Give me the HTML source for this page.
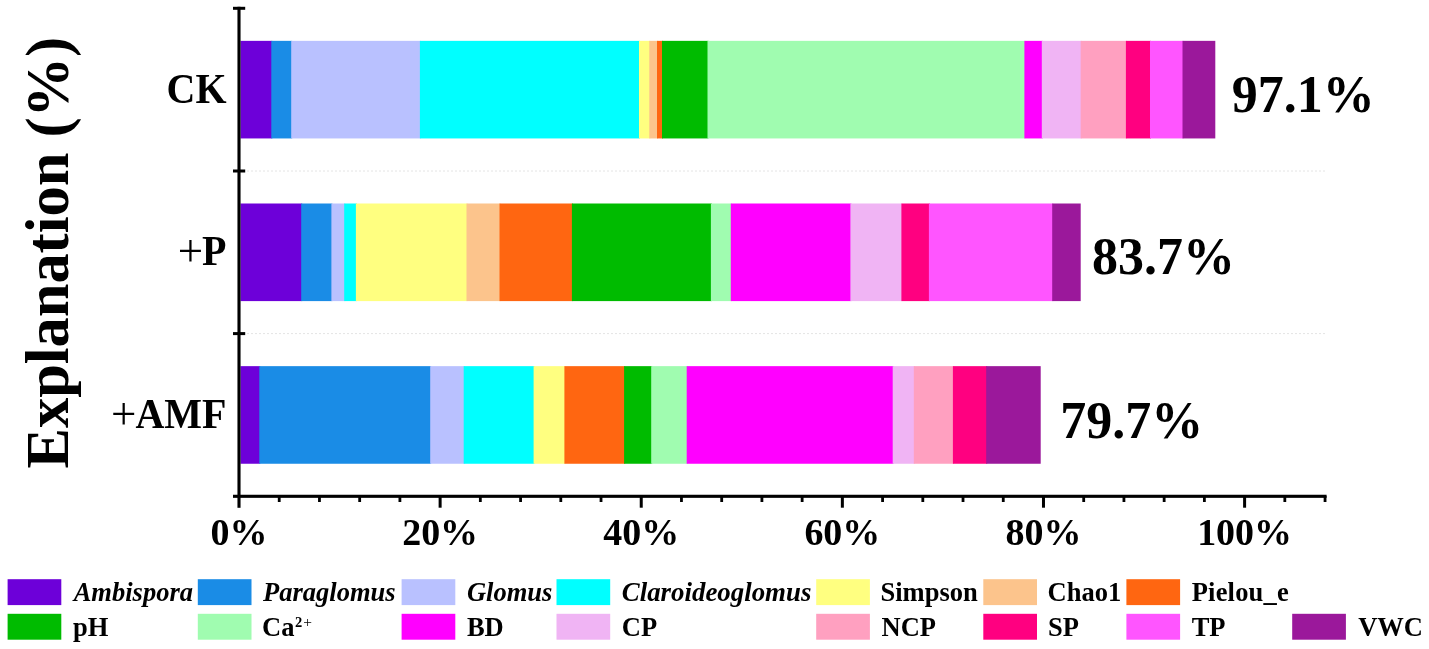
<!DOCTYPE html>
<html lang="en"><head><meta charset="utf-8"><title>Explanation (%)</title>
<style>
html,body{margin:0;padding:0;background:#fff;}
body{width:1429px;height:649px;overflow:hidden;}
svg{display:block;}
text{font-family:"Liberation Serif","Times New Roman",serif;font-weight:bold;fill:#000;}
.it{font-style:italic;}
</style></head><body>
<svg width="1429" height="649" viewBox="0 0 1429 649">
<rect x="0" y="0" width="1429" height="649" fill="#fff"/>
<line x1="247" y1="171.0" x2="1325" y2="171.0" stroke="#e4e4e4" stroke-width="1" stroke-dasharray="2 2"/>
<line x1="247" y1="333.6" x2="1325" y2="333.6" stroke="#e4e4e4" stroke-width="1" stroke-dasharray="2 2"/>
<rect x="240.50" y="40.85" width="31.80" height="97.60" fill="#6D00D9"/>
<rect x="271.30" y="40.85" width="20.90" height="97.60" fill="#1A8CE6"/>
<rect x="291.20" y="40.85" width="129.70" height="97.60" fill="#B9C1FF"/>
<rect x="419.90" y="40.85" width="220.10" height="97.60" fill="#00FFFF"/>
<rect x="639.00" y="40.85" width="11.30" height="97.60" fill="#FFFF80"/>
<rect x="649.30" y="40.85" width="8.70" height="97.60" fill="#FCC48C"/>
<rect x="657.00" y="40.85" width="6.00" height="97.60" fill="#FF6611"/>
<rect x="662.00" y="40.85" width="46.50" height="97.60" fill="#00BB00"/>
<rect x="707.50" y="40.85" width="317.90" height="97.60" fill="#A0FCB0"/>
<rect x="1024.40" y="40.85" width="18.40" height="97.60" fill="#FF00FF"/>
<rect x="1041.80" y="40.85" width="39.90" height="97.60" fill="#F0B4F4"/>
<rect x="1080.70" y="40.85" width="46.20" height="97.60" fill="#FFA0C0"/>
<rect x="1125.90" y="40.85" width="25.10" height="97.60" fill="#FF0080"/>
<rect x="1150.00" y="40.85" width="33.50" height="97.60" fill="#FF55FF"/>
<rect x="1182.50" y="40.85" width="32.80" height="97.60" fill="#9B189B"/>
<rect x="240.50" y="203.50" width="61.70" height="97.60" fill="#6D00D9"/>
<rect x="301.20" y="203.50" width="31.20" height="97.60" fill="#1A8CE6"/>
<rect x="331.40" y="203.50" width="13.80" height="97.60" fill="#B9C1FF"/>
<rect x="344.20" y="203.50" width="12.70" height="97.60" fill="#00FFFF"/>
<rect x="355.90" y="203.50" width="111.60" height="97.60" fill="#FFFF80"/>
<rect x="466.50" y="203.50" width="34.00" height="97.60" fill="#FCC48C"/>
<rect x="499.50" y="203.50" width="73.40" height="97.60" fill="#FF6611"/>
<rect x="571.90" y="203.50" width="140.00" height="97.60" fill="#00BB00"/>
<rect x="710.90" y="203.50" width="20.90" height="97.60" fill="#A0FCB0"/>
<rect x="730.80" y="203.50" width="120.60" height="97.60" fill="#FF00FF"/>
<rect x="850.40" y="203.50" width="52.00" height="97.60" fill="#F0B4F4"/>
<rect x="901.40" y="203.50" width="28.50" height="97.60" fill="#FF0080"/>
<rect x="928.90" y="203.50" width="124.30" height="97.60" fill="#FF55FF"/>
<rect x="1052.20" y="203.50" width="28.50" height="97.60" fill="#9B189B"/>
<rect x="240.50" y="366.15" width="19.80" height="97.60" fill="#6D00D9"/>
<rect x="259.30" y="366.15" width="171.90" height="97.60" fill="#1A8CE6"/>
<rect x="430.20" y="366.15" width="34.50" height="97.60" fill="#B9C1FF"/>
<rect x="463.70" y="366.15" width="70.90" height="97.60" fill="#00FFFF"/>
<rect x="533.60" y="366.15" width="31.80" height="97.60" fill="#FFFF80"/>
<rect x="564.40" y="366.15" width="60.70" height="97.60" fill="#FF6611"/>
<rect x="624.10" y="366.15" width="28.10" height="97.60" fill="#00BB00"/>
<rect x="651.20" y="366.15" width="36.50" height="97.60" fill="#A0FCB0"/>
<rect x="686.70" y="366.15" width="207.00" height="97.60" fill="#FF00FF"/>
<rect x="892.70" y="366.15" width="22.10" height="97.60" fill="#F0B4F4"/>
<rect x="913.80" y="366.15" width="40.10" height="97.60" fill="#FFA0C0"/>
<rect x="952.90" y="366.15" width="34.30" height="97.60" fill="#FF0080"/>
<rect x="986.20" y="366.15" width="54.50" height="97.60" fill="#9B189B"/>
<g fill="#000">
<rect x="237.45" y="6.8" width="3.1" height="501"/>
<rect x="233" y="494.75" width="1093.6" height="3.1"/>
<rect x="233" y="6.80" width="12.2" height="3"/>
<rect x="233" y="169.50" width="12.2" height="3"/>
<rect x="233" y="332.10" width="12.2" height="3"/>
<rect x="277.82" y="496" width="2.8" height="6"/>
<rect x="318.05" y="496" width="2.8" height="6"/>
<rect x="358.27" y="496" width="2.8" height="6"/>
<rect x="398.50" y="496" width="2.8" height="6"/>
<rect x="438.62" y="496" width="3" height="11.7"/>
<rect x="478.94" y="496" width="2.8" height="6"/>
<rect x="519.17" y="496" width="2.8" height="6"/>
<rect x="559.39" y="496" width="2.8" height="6"/>
<rect x="599.62" y="496" width="2.8" height="6"/>
<rect x="639.74" y="496" width="3" height="11.7"/>
<rect x="680.06" y="496" width="2.8" height="6"/>
<rect x="720.29" y="496" width="2.8" height="6"/>
<rect x="760.51" y="496" width="2.8" height="6"/>
<rect x="800.74" y="496" width="2.8" height="6"/>
<rect x="840.86" y="496" width="3" height="11.7"/>
<rect x="881.18" y="496" width="2.8" height="6"/>
<rect x="921.41" y="496" width="2.8" height="6"/>
<rect x="961.63" y="496" width="2.8" height="6"/>
<rect x="1001.86" y="496" width="2.8" height="6"/>
<rect x="1041.98" y="496" width="3" height="11.7"/>
<rect x="1082.30" y="496" width="2.8" height="6"/>
<rect x="1122.53" y="496" width="2.8" height="6"/>
<rect x="1162.75" y="496" width="2.8" height="6"/>
<rect x="1202.98" y="496" width="2.8" height="6"/>
<rect x="1243.10" y="496" width="3" height="11.7"/>
<rect x="1283.42" y="496" width="2.8" height="6"/>
<rect x="1323.65" y="496" width="2.8" height="6"/>
</g>
<text transform="translate(239.00,545.3) scale(1,1.015)" font-size="38" text-anchor="middle">0%</text>
<text transform="translate(440.12,545.3) scale(1,1.015)" font-size="38" text-anchor="middle">20%</text>
<text transform="translate(641.24,545.3) scale(1,1.015)" font-size="38" text-anchor="middle">40%</text>
<text transform="translate(842.36,545.3) scale(1,1.015)" font-size="38" text-anchor="middle">60%</text>
<text transform="translate(1043.48,545.3) scale(1,1.015)" font-size="38" text-anchor="middle">80%</text>
<text transform="translate(1244.60,545.3) scale(1,1.015)" font-size="38" text-anchor="middle">100%</text>
<text transform="translate(226.5,102.7) scale(1,1.045)" font-size="40" text-anchor="end">CK</text>
<text transform="translate(226.5,265.0) scale(1,1.045)" font-size="40" text-anchor="end"><tspan font-weight="400" font-size="45" dy="1.2">+</tspan><tspan dy="-1.2" dx="-1">P</tspan></text>
<text transform="translate(226.5,427.8) scale(1,1.045)" font-size="40" text-anchor="end"><tspan font-weight="400" font-size="45" dy="1.2">+</tspan><tspan dy="-1.2" dx="-1">AMF</tspan></text>
<text transform="translate(1231.7,111.7) scale(1,1.035)" font-size="52">97.1%</text>
<text transform="translate(1091.9,274.1) scale(1,1.035)" font-size="52">83.7%</text>
<text transform="translate(1060.2,438.2) scale(1,1.035)" font-size="52">79.7%</text>
<text transform="translate(68.2,252.6) rotate(-90) scale(1,1.028)" font-size="60.45" text-anchor="middle">Explanation (%)</text>
<rect x="7.6" y="579.2" width="53.7" height="25.9" fill="#6D00D9"/>
<text x="73.7" y="601" class="it" font-size="26.5">Ambispora</text>
<rect x="197.8" y="579.2" width="53.7" height="25.9" fill="#1A8CE6"/>
<text x="263.1" y="601" class="it" font-size="26.5">Paraglomus</text>
<rect x="401.6" y="579.2" width="53.7" height="25.9" fill="#B9C1FF"/>
<text x="466.9" y="601" class="it" font-size="26.5">Glomus</text>
<rect x="556.5" y="579.2" width="53.7" height="25.9" fill="#00FFFF"/>
<text x="621.8" y="601" class="it" textLength="189.6" lengthAdjust="spacingAndGlyphs" font-size="26.5">Claroideoglomus</text>
<rect x="816.2" y="579.2" width="53.7" height="25.9" fill="#FFFF80"/>
<text x="880.5" y="601" font-size="26.5">Simpson</text>
<rect x="983.3" y="579.2" width="53.7" height="25.9" fill="#FCC48C"/>
<text x="1047.6" y="601" font-size="26.5">Chao1</text>
<rect x="1126.4" y="579.2" width="53.7" height="25.9" fill="#FF6611"/>
<text x="1191.7" y="601" letter-spacing="0.2" font-size="26.5">Pielou_e</text>
<rect x="7.6" y="613.8" width="53.7" height="25.9" fill="#00BB00"/>
<text x="72.9" y="635.5" font-size="26.5">pH</text>
<rect x="197.8" y="613.8" width="53.7" height="25.9" fill="#A0FCB0"/>
<text x="262.1" y="635.5" font-size="26.5">Ca<tspan font-size="14.5" dx="0.6" dy="-8.6">2</tspan><tspan font-size="15.5" font-weight="400" dx="0.8" dy="0.2">+</tspan></text>
<rect x="401.6" y="613.8" width="53.7" height="25.9" fill="#FF00FF"/>
<text x="466.9" y="635.5" font-size="26.5">BD</text>
<rect x="556.5" y="613.8" width="53.7" height="25.9" fill="#F0B4F4"/>
<text x="621.8" y="635.5" font-size="26.5">CP</text>
<rect x="816.2" y="613.8" width="53.7" height="25.9" fill="#FFA0C0"/>
<text x="881.5" y="635.5" font-size="26.5">NCP</text>
<rect x="983.3" y="613.8" width="53.7" height="25.9" fill="#FF0080"/>
<text x="1048.1" y="635.5" font-size="26.5">SP</text>
<rect x="1126.4" y="613.8" width="53.7" height="25.9" fill="#FF55FF"/>
<text x="1191.7" y="635.5" font-size="26.5">TP</text>
<rect x="1292.2" y="613.8" width="53.7" height="25.9" fill="#9B189B"/>
<text x="1358.2" y="635.5" font-size="26.5">VWC</text>
</svg>
</body></html>
